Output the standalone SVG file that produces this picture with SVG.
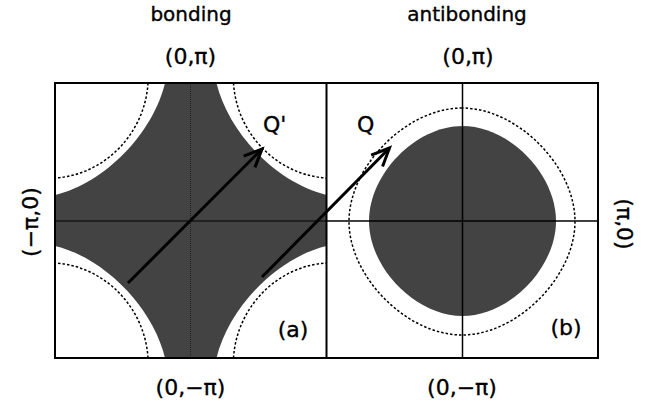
<svg xmlns="http://www.w3.org/2000/svg" xmlns:xlink="http://www.w3.org/1999/xlink" width="645" height="407" viewBox="0 0 645 407">
<style>
.dark{fill:#434343;stroke:none}
.hole{fill:#fff;stroke:none}
.dash{fill:none;stroke:#000;stroke-width:1.5;stroke-dasharray:2.5 2}
.axis{stroke:#000;stroke-width:1.5;fill:none}
.frame{fill:none;stroke:#000;stroke-width:2}
.arrow{stroke:#000;stroke-width:3;fill:none;marker-end:url(#ah)}
.lbl{font-family:"DejaVu Sans","Liberation Sans",sans-serif;fill:#000;stroke:#000;stroke-width:0.35}
</style>
<defs>
<marker id="ah" markerUnits="userSpaceOnUse" markerWidth="30" markerHeight="30" refX="0" refY="0" orient="auto" style="overflow:visible">
<path d="M-18,-8 L0,0 L-18,8" fill="none" stroke="#000" stroke-width="3" stroke-linejoin="miter"/>
</marker>
<path id="corner" d="M110,0 C98,50 50,100 0,112 L0,0 Z"/>
<path id="cdash" d="M93,0 C90,50 50,92 0,95"/>
</defs>

<g id="panel-a">
<rect class="dark" x="55" y="83" width="271.5" height="275"/>
<use xlink:href="#corner" class="hole" transform="translate(55,83)"/>
<use xlink:href="#corner" class="hole" transform="translate(326.5,83) scale(-1,1)"/>
<use xlink:href="#corner" class="hole" transform="translate(55,358) scale(1,-1)"/>
<use xlink:href="#corner" class="hole" transform="translate(326.5,358) scale(-1,-1)"/>
<use xlink:href="#cdash" class="dash" transform="translate(55,83)"/>
<use xlink:href="#cdash" class="dash" transform="translate(326.5,83) scale(-1,1)"/>
<use xlink:href="#cdash" class="dash" transform="translate(55,358) scale(1,-1)"/>
<use xlink:href="#cdash" class="dash" transform="translate(326.5,358) scale(-1,-1)"/>
<line x1="55" y1="221" x2="326.5" y2="221" stroke="#000" stroke-width="1"/>
<line x1="190.5" y1="83" x2="190.5" y2="358" stroke="#222" stroke-width="1" stroke-dasharray="1 1"/>
</g>

<g id="panel-b">
<path class="dark" d="M462.5,126 C415.5,126 369,174 369,221 C369,268 415.5,316 462.5,316 C509.5,316 556,268 556,221 C556,174 509.5,126 462.5,126 Z"/>
<path class="dash" d="M462,108 C407,108 349,166 349,221.4 C349,277 407,335 462,335 C517,335 575,277 575,221.4 C575,166 517,108 462,108 Z"/>
<line class="axis" x1="462.5" y1="83" x2="462.5" y2="358"/>
<line class="axis" x1="326.5" y1="221" x2="598" y2="221"/>
</g>

<g id="frame">
<rect class="frame" x="55" y="83" width="543" height="275"/>
<line class="frame" x1="326.5" y1="83" x2="326.5" y2="358"/>
</g>

<g id="connectors">
<line class="arrow" x1="128" y1="283" x2="262" y2="149"/>
<line class="arrow" x1="262" y1="277" x2="389.5" y2="148"/>
</g>

<g id="labels">
<text class="lbl" x="191" y="21" font-size="20" text-anchor="middle">bonding</text>
<text class="lbl" x="467" y="21" font-size="20" text-anchor="middle">antibonding</text>
<text class="lbl" x="190.5" y="64" font-size="22" text-anchor="middle">(0,π)</text>
<text class="lbl" x="468" y="64" font-size="22" text-anchor="middle">(0,π)</text>
<text class="lbl" x="190.5" y="395" font-size="22" text-anchor="middle">(0,−π)</text>
<text class="lbl" x="462" y="395" font-size="22" text-anchor="middle">(0,−π)</text>
<text class="lbl" font-size="22" text-anchor="middle" transform="translate(38,222) rotate(-90)">(−π,0)</text>
<text class="lbl" font-size="22" text-anchor="middle" transform="translate(617,224) rotate(90)">(π,0)</text>
<text class="lbl" x="263" y="132" font-size="22">Q'</text>
<text class="lbl" x="357" y="132" font-size="22">Q</text>
<text class="lbl" x="293" y="337" font-size="22" text-anchor="middle">(a)</text>
<text class="lbl" x="566" y="335" font-size="22" text-anchor="middle">(b)</text>
</g>
</svg>
